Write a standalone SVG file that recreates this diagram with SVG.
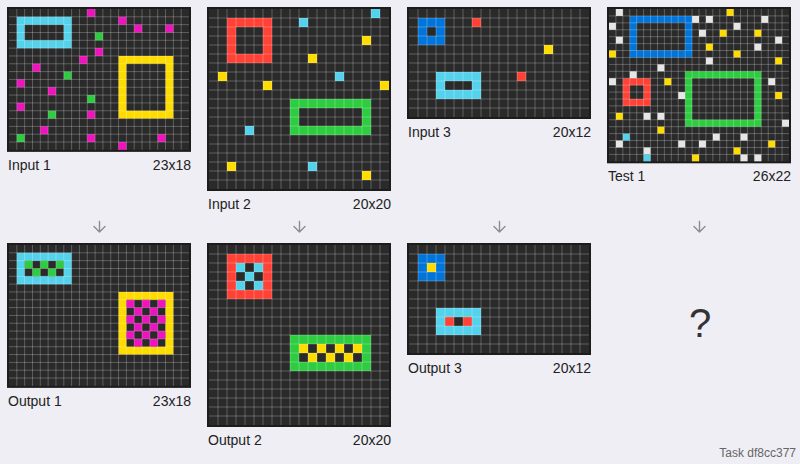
<svg xmlns="http://www.w3.org/2000/svg" xmlns:xlink="http://www.w3.org/1999/xlink" width="800" height="464" viewBox="0 0 800 464">
<style>
.lbl{font-family:"Liberation Sans",Arial,sans-serif;font-size:14px;fill:#222}
.dim{font-family:"Liberation Sans",Arial,sans-serif;font-size:14px;fill:#222;text-anchor:end}
.arr{fill:none;stroke:#8c8c8c;stroke-width:1.4;stroke-linecap:round;stroke-linejoin:round}
.frame{fill:#1c1c1c}
.bg{fill:#2a2a2a}
.gl{fill:none;stroke:#fff;stroke-opacity:0.25;stroke-width:1;vector-effect:non-scaling-stroke}
.m{fill:#F012BE}
.g{fill:#2ECC40}
.y{fill:#FFDC00}
.r{fill:#FF4136}
.b{fill:#0074D9}
.c{fill:#54D2EB}
.w{fill:#E6E6E6}
.ring{fill-rule:evenodd}
</style>
<defs>
<path id="g23x18" class="gl" d="M1 0V18M2 0V18M3 0V18M4 0V18M5 0V18M6 0V18M7 0V18M8 0V18M9 0V18M10 0V18M11 0V18M12 0V18M13 0V18M14 0V18M15 0V18M16 0V18M17 0V18M18 0V18M19 0V18M20 0V18M21 0V18M22 0V18M0 1H23M0 2H23M0 3H23M0 4H23M0 5H23M0 6H23M0 7H23M0 8H23M0 9H23M0 10H23M0 11H23M0 12H23M0 13H23M0 14H23M0 15H23M0 16H23M0 17H23"/>
<path id="g20x20" class="gl" d="M1 0V20M2 0V20M3 0V20M4 0V20M5 0V20M6 0V20M7 0V20M8 0V20M9 0V20M10 0V20M11 0V20M12 0V20M13 0V20M14 0V20M15 0V20M16 0V20M17 0V20M18 0V20M19 0V20M0 1H20M0 2H20M0 3H20M0 4H20M0 5H20M0 6H20M0 7H20M0 8H20M0 9H20M0 10H20M0 11H20M0 12H20M0 13H20M0 14H20M0 15H20M0 16H20M0 17H20M0 18H20M0 19H20"/>
<path id="g20x12" class="gl" d="M1 0V12M2 0V12M3 0V12M4 0V12M5 0V12M6 0V12M7 0V12M8 0V12M9 0V12M10 0V12M11 0V12M12 0V12M13 0V12M14 0V12M15 0V12M16 0V12M17 0V12M18 0V12M19 0V12M0 1H20M0 2H20M0 3H20M0 4H20M0 5H20M0 6H20M0 7H20M0 8H20M0 9H20M0 10H20M0 11H20"/>
<path id="g26x22" class="gl" d="M1 0V22M2 0V22M3 0V22M4 0V22M5 0V22M6 0V22M7 0V22M8 0V22M9 0V22M10 0V22M11 0V22M12 0V22M13 0V22M14 0V22M15 0V22M16 0V22M17 0V22M18 0V22M19 0V22M20 0V22M21 0V22M22 0V22M23 0V22M24 0V22M25 0V22M0 1H26M0 2H26M0 3H26M0 4H26M0 5H26M0 6H26M0 7H26M0 8H26M0 9H26M0 10H26M0 11H26M0 12H26M0 13H26M0 14H26M0 15H26M0 16H26M0 17H26M0 18H26M0 19H26M0 20H26M0 21H26"/>
<path id="arrow" class="arr" d="M0 -5V5.5M-5.5 0L0 5.5L5.5 0"/>
</defs>
<rect width="800" height="464" fill="#EEEEF4"/>

<g id="input1">
<rect class="frame" x="7" y="7" width="184" height="144.87"/>
<g transform="translate(9 9) scale(7.82609)">
<rect class="bg" width="23" height="18"/>
<path class="c ring" d="M1 1h7v4h-7zM2 2h5v2h-5z"/>
<path class="y ring" d="M14 6h7v8h-7zM15 7h5v6h-5z"/>
<rect class="m" x="10" y="0" width="1" height="1"/><rect class="m" x="14" y="1" width="1" height="1"/><rect class="m" x="16" y="2" width="1" height="1"/><rect class="m" x="20" y="2" width="1" height="1"/><rect class="m" x="11" y="5" width="1" height="1"/><rect class="m" x="9" y="6" width="1" height="1"/><rect class="m" x="3" y="7" width="1" height="1"/><rect class="m" x="1" y="9" width="1" height="1"/><rect class="m" x="5" y="10" width="1" height="1"/><rect class="m" x="1" y="12" width="1" height="1"/><rect class="m" x="10" y="13" width="1" height="1"/><rect class="m" x="4" y="15" width="1" height="1"/><rect class="m" x="10" y="16" width="1" height="1"/><rect class="m" x="19" y="16" width="1" height="1"/><rect class="m" x="14" y="17" width="1" height="1"/>
<rect class="g" x="11" y="3" width="1" height="1"/><rect class="g" x="7" y="8" width="1" height="1"/><rect class="g" x="10" y="11" width="1" height="1"/><rect class="g" x="5" y="13" width="1" height="1"/><rect class="g" x="1" y="16" width="1" height="1"/>
<use xlink:href="#g23x18"/>
</g>
<text class="lbl" x="8" y="170">Input 1</text>
<text class="dim" x="191" y="170">23x18</text>
</g>

<g id="output1">
<rect class="frame" x="7" y="243" width="184" height="144.87"/>
<g transform="translate(9 245) scale(7.82609)">
<rect class="bg" width="23" height="18"/>
<path class="c ring" d="M1 1h7v4h-7zM2 2h5v2h-5z"/>
<path class="y ring" d="M14 6h7v8h-7zM15 7h5v6h-5z"/>
<rect class="g" x="2" y="2" width="1" height="1"/><rect class="g" x="4" y="2" width="1" height="1"/><rect class="g" x="6" y="2" width="1" height="1"/><rect class="g" x="3" y="3" width="1" height="1"/><rect class="g" x="5" y="3" width="1" height="1"/>
<rect class="m" x="15" y="7" width="1" height="1"/><rect class="m" x="17" y="7" width="1" height="1"/><rect class="m" x="19" y="7" width="1" height="1"/><rect class="m" x="16" y="8" width="1" height="1"/><rect class="m" x="18" y="8" width="1" height="1"/><rect class="m" x="15" y="9" width="1" height="1"/><rect class="m" x="17" y="9" width="1" height="1"/><rect class="m" x="19" y="9" width="1" height="1"/><rect class="m" x="16" y="10" width="1" height="1"/><rect class="m" x="18" y="10" width="1" height="1"/><rect class="m" x="15" y="11" width="1" height="1"/><rect class="m" x="17" y="11" width="1" height="1"/><rect class="m" x="19" y="11" width="1" height="1"/><rect class="m" x="16" y="12" width="1" height="1"/><rect class="m" x="18" y="12" width="1" height="1"/>
<use xlink:href="#g23x18"/>
</g>
<text class="lbl" x="8" y="406">Output 1</text>
<text class="dim" x="191" y="406">23x18</text>
</g>

<g id="input2">
<rect class="frame" x="207" y="7" width="184" height="184"/>
<g transform="translate(209 9) scale(9)">
<rect class="bg" width="20" height="20"/>
<path class="r ring" d="M2 1h5v5h-5zM3 2h3v3h-3z"/>
<path class="g ring" d="M9 10h9v4h-9zM10 11h7v2h-7z"/>
<rect class="c" x="18" y="0" width="1" height="1"/><rect class="c" x="10" y="1" width="1" height="1"/><rect class="c" x="14" y="7" width="1" height="1"/><rect class="c" x="4" y="13" width="1" height="1"/><rect class="c" x="11" y="17" width="1" height="1"/>
<rect class="y" x="17" y="3" width="1" height="1"/><rect class="y" x="11" y="5" width="1" height="1"/><rect class="y" x="1" y="7" width="1" height="1"/><rect class="y" x="6" y="8" width="1" height="1"/><rect class="y" x="19" y="8" width="1" height="1"/><rect class="y" x="2" y="17" width="1" height="1"/><rect class="y" x="17" y="18" width="1" height="1"/>
<use xlink:href="#g20x20"/>
</g>
<text class="lbl" x="208" y="209">Input 2</text>
<text class="dim" x="391" y="209">20x20</text>
</g>

<g id="output2">
<rect class="frame" x="207" y="243" width="184" height="184"/>
<g transform="translate(209 245) scale(9)">
<rect class="bg" width="20" height="20"/>
<path class="r ring" d="M2 1h5v5h-5zM3 2h3v3h-3z"/>
<path class="g ring" d="M9 10h9v4h-9zM10 11h7v2h-7z"/>
<rect class="c" x="3" y="2" width="1" height="1"/><rect class="c" x="5" y="2" width="1" height="1"/><rect class="c" x="4" y="3" width="1" height="1"/><rect class="c" x="3" y="4" width="1" height="1"/><rect class="c" x="5" y="4" width="1" height="1"/>
<rect class="y" x="10" y="11" width="1" height="1"/><rect class="y" x="12" y="11" width="1" height="1"/><rect class="y" x="14" y="11" width="1" height="1"/><rect class="y" x="16" y="11" width="1" height="1"/><rect class="y" x="11" y="12" width="1" height="1"/><rect class="y" x="13" y="12" width="1" height="1"/><rect class="y" x="15" y="12" width="1" height="1"/>
<use xlink:href="#g20x20"/>
</g>
<text class="lbl" x="208" y="445">Output 2</text>
<text class="dim" x="391" y="445">20x20</text>
</g>

<g id="input3">
<rect class="frame" x="407" y="7" width="184" height="112"/>
<g transform="translate(409 9) scale(9)">
<rect class="bg" width="20" height="12"/>
<path class="b ring" d="M1 1h3v3h-3zM2 2h1v1h-1z"/>
<path class="c ring" d="M3 7h5v3h-5zM4 8h3v1h-3z"/>
<rect class="r" x="7" y="1" width="1" height="1"/><rect class="r" x="12" y="7" width="1" height="1"/>
<rect class="y" x="15" y="4" width="1" height="1"/>
<use xlink:href="#g20x12"/>
</g>
<text class="lbl" x="408" y="137">Input 3</text>
<text class="dim" x="591" y="137">20x12</text>
</g>

<g id="output3">
<rect class="frame" x="407" y="243" width="184" height="112"/>
<g transform="translate(409 245) scale(9)">
<rect class="bg" width="20" height="12"/>
<path class="b ring" d="M1 1h3v3h-3zM2 2h1v1h-1z"/>
<path class="c ring" d="M3 7h5v3h-5zM4 8h3v1h-3z"/>
<rect class="y" x="2" y="2" width="1" height="1"/>
<rect class="r" x="4" y="8" width="1" height="1"/><rect class="r" x="6" y="8" width="1" height="1"/>
<use xlink:href="#g20x12"/>
</g>
<text class="lbl" x="408" y="373">Output 3</text>
<text class="dim" x="591" y="373">20x12</text>
</g>

<g id="test1">
<rect class="frame" x="607" y="7" width="184" height="156.31"/>
<g transform="translate(609 9) scale(6.92308)">
<rect class="bg" width="26" height="22"/>
<path class="b ring" d="M3 1h9v6h-9zM4 2h7v4h-7z"/>
<path class="g ring" d="M11 9h11v8h-11zM12 10h9v6h-9z"/>
<path class="r ring" d="M2 10h4v4h-4zM3 11h2v2h-2z"/>
<rect class="w" x="1" y="0" width="1" height="1"/><rect class="w" x="12" y="1" width="1" height="1"/><rect class="w" x="14" y="1" width="1" height="1"/><rect class="w" x="22" y="1" width="1" height="1"/><rect class="w" x="0" y="2" width="1" height="1"/><rect class="w" x="18" y="2" width="1" height="1"/><rect class="w" x="13" y="3" width="1" height="1"/><rect class="w" x="1" y="4" width="1" height="1"/><rect class="w" x="24" y="4" width="1" height="1"/><rect class="w" x="21" y="5" width="1" height="1"/><rect class="w" x="14" y="7" width="1" height="1"/><rect class="w" x="7" y="8" width="1" height="1"/><rect class="w" x="3" y="9" width="1" height="1"/><rect class="w" x="0" y="10" width="1" height="1"/><rect class="w" x="23" y="10" width="1" height="1"/><rect class="w" x="10" y="12" width="1" height="1"/><rect class="w" x="5" y="15" width="1" height="1"/><rect class="w" x="7" y="15" width="1" height="1"/><rect class="w" x="25" y="16" width="1" height="1"/><rect class="w" x="15" y="18" width="1" height="1"/><rect class="w" x="19" y="18" width="1" height="1"/><rect class="w" x="1" y="19" width="1" height="1"/><rect class="w" x="10" y="19" width="1" height="1"/><rect class="w" x="13" y="19" width="1" height="1"/><rect class="w" x="5" y="20" width="1" height="1"/><rect class="w" x="19" y="21" width="1" height="1"/><rect class="w" x="21" y="21" width="1" height="1"/>
<rect class="y" x="17" y="0" width="1" height="1"/><rect class="y" x="16" y="3" width="1" height="1"/><rect class="y" x="21" y="3" width="1" height="1"/><rect class="y" x="14" y="5" width="1" height="1"/><rect class="y" x="0" y="6" width="1" height="1"/><rect class="y" x="18" y="6" width="1" height="1"/><rect class="y" x="24" y="7" width="1" height="1"/><rect class="y" x="8" y="10" width="1" height="1"/><rect class="y" x="24" y="12" width="1" height="1"/><rect class="y" x="1" y="15" width="1" height="1"/><rect class="y" x="7" y="17" width="1" height="1"/><rect class="y" x="23" y="19" width="1" height="1"/><rect class="y" x="18" y="20" width="1" height="1"/><rect class="y" x="12" y="21" width="1" height="1"/>
<rect class="c" x="2" y="18" width="1" height="1"/><rect class="c" x="5" y="21" width="1" height="1"/>
<use xlink:href="#g26x22"/>
</g>
<text class="lbl" x="608" y="181">Test 1</text>
<text class="dim" x="791" y="181">26x22</text>
</g>

<g id="connectors">
<use xlink:href="#arrow" x="99.5" y="226.5"/>
<use xlink:href="#arrow" x="299.5" y="226.5"/>
<use xlink:href="#arrow" x="499.5" y="226.5"/>
<use xlink:href="#arrow" x="699.5" y="226.5"/>
</g>

<g id="test-output">
<text x="700" y="337" font-family="Liberation Sans, Arial, sans-serif" font-size="40" fill="#333" text-anchor="middle">?</text>
</g>

<text x="796" y="457" font-family="Liberation Sans, Arial, sans-serif" font-size="12" fill="#666" text-anchor="end">Task df8cc377</text>
</svg>
